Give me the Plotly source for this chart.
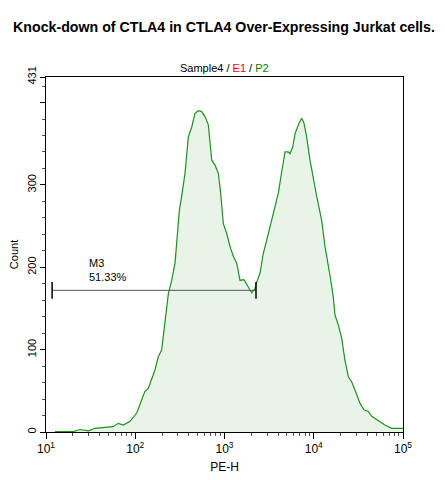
import numpy as np
import plotly.graph_objects as go

# PE-H channel values and event counts
pe_h = [12.6, 20.2, 24.0, 29.8, 35.4, 47.9, 56.3, 64.6, 73.5, 87.3,
        104, 128, 140, 166, 181, 198, 221, 235, 256, 279,
        291, 312, 331, 361, 393, 429, 467, 509, 555, 605,
        659, 689, 719, 783, 853, 906, 970, 1059, 1153, 1257,
        1371, 1492, 1653, 1848, 2018, 2198, 2297, 2500, 2723, 2972,
        3236, 3681, 4009, 4378, 4767, 5190, 5420, 5808, 6166, 6714,
        7328, 7776, 8337, 9078, 9886, 10790, 12270, 13370, 15210, 16560,
        17300, 18840, 20560, 22390, 24390, 26600, 28970, 32950, 36540, 40840,
        44570, 50700, 55200, 62800, 74700, 100000]
counts = [0.5, 0.5, 3, 1.5, 4.5, 5.6, 6.5, 10.5, 8.5, 13,
          23, 49, 53, 75, 91, 100, 140, 168, 184, 205,
          229, 269, 286, 314, 358, 370, 387, 390, 389, 383,
          373, 354, 330, 324, 314, 290, 253, 241, 225, 213,
          205, 184, 185, 176, 169, 174, 182, 193, 217, 233,
          249, 274, 290, 316, 340, 340, 338, 346, 362, 373,
          381, 375, 358, 330, 306, 286, 257, 225, 190, 164,
          142, 130, 114, 87, 67, 61, 51, 35, 27, 25,
          19, 15, 12.5, 8.5, 4.5, 4.5]

# M3 marker gate
gate_lo, gate_hi = 11.7, 2254
gate_level = 172
gate_name = "M3"
gate_pct = "51.33%"

x_ticks = [10, 100, 1000, 10000, 100000]
x_labels = ["10<sup>1</sup>", "10<sup>2</sup>", "10<sup>3</sup>", "10<sup>4</sup>", "10<sup>5</sup>"]
y_ticks = [0, 100, 200, 300, 400, 431]
y_labels = ["0", "100", "200", "300", "", "431"]
y_max = 431

font = "Liberation Sans, Arial, sans-serif"

# the page puts the figure 8px in from the top-left corner, so the figure is
# made 8px smaller and everything is laid out relative to that
W, H = 437, 472

fig = go.Figure()
fig.add_trace(go.Scatter(
    x=pe_h, y=counts, mode="lines",
    line=dict(color="#1f8f1f", width=1.2),
    fill="tozeroy", fillcolor="#e9f4e9",
    hoverinfo="skip"
))
# gate bar
fig.add_trace(go.Scatter(
    x=[gate_lo, gate_hi], y=[gate_level, gate_level], mode="lines",
    line=dict(color="#555555", width=1), hoverinfo="skip"
))
fig.add_trace(go.Scatter(
    x=[gate_lo, gate_hi], y=[gate_level, gate_level], mode="markers",
    marker=dict(symbol="line-ns-open", size=12, color="black",
                line=dict(color="black", width=1.5)),
    hoverinfo="skip"
))

fig.update_layout(
    width=W, height=H,
    margin=dict(l=38, r=42, t=69, b=48),
    paper_bgcolor="white", plot_bgcolor="white",
    showlegend=False,
    font=dict(family=font, color="black", size=11),
    title=dict(
        text="<b>Knock-down of CTLA4 in CTLA4 Over-Expressing Jurkat cells.</b>",
        x=216 / W, xref="container", y=1 - 19 / H, yref="container",
        xanchor="center", yanchor="middle",
        font=dict(family=font, size=14.2, color="black")
    ),
    xaxis=dict(
        type="log", range=[1, 5], automargin=False,
        tickmode="array", tickvals=x_ticks, ticktext=x_labels,
        ticks="outside", ticklen=6, tickcolor="black",
        minor=dict(dtick="D1", ticks="outside", ticklen=3, tickcolor="#555555"),
        showline=True, linecolor="black", linewidth=1, mirror=True,
        showgrid=False, zeroline=False,
        tickfont=dict(size=12),
        title=dict(text="PE-H", font=dict(size=12), standoff=7)
    ),
    yaxis=dict(
        range=[0, y_max], automargin=False,
        tickmode="array", tickvals=y_ticks, ticktext=y_labels,
        ticks="outside", ticklen=5, tickcolor="black", tickangle=-90,
        minor=dict(dtick=20, tick0=0, ticks="outside", ticklen=3, tickcolor="#555555"),
        showline=True, linecolor="black", linewidth=1, mirror=True,
        showgrid=False, zeroline=False,
        tickfont=dict(size=11),
        title=dict(text="Count", font=dict(size=11), standoff=6)
    ),
    annotations=[
        dict(text="Sample4 / <span style='color:red'>E1</span> / <span style='color:green'>P2</span>",
             xref="paper", yref="paper", x=0.5, y=1.0, yshift=9,
             xanchor="center", yanchor="middle", showarrow=False,
             font=dict(size=11)),
        dict(text=gate_name + "<br>" + gate_pct,
             xref="paper", yref="paper", x=0.115, y=0.415,
             xanchor="left", yanchor="bottom", align="left", showarrow=False,
             font=dict(size=11)),
    ],
)

fig.write_html("out.html")
